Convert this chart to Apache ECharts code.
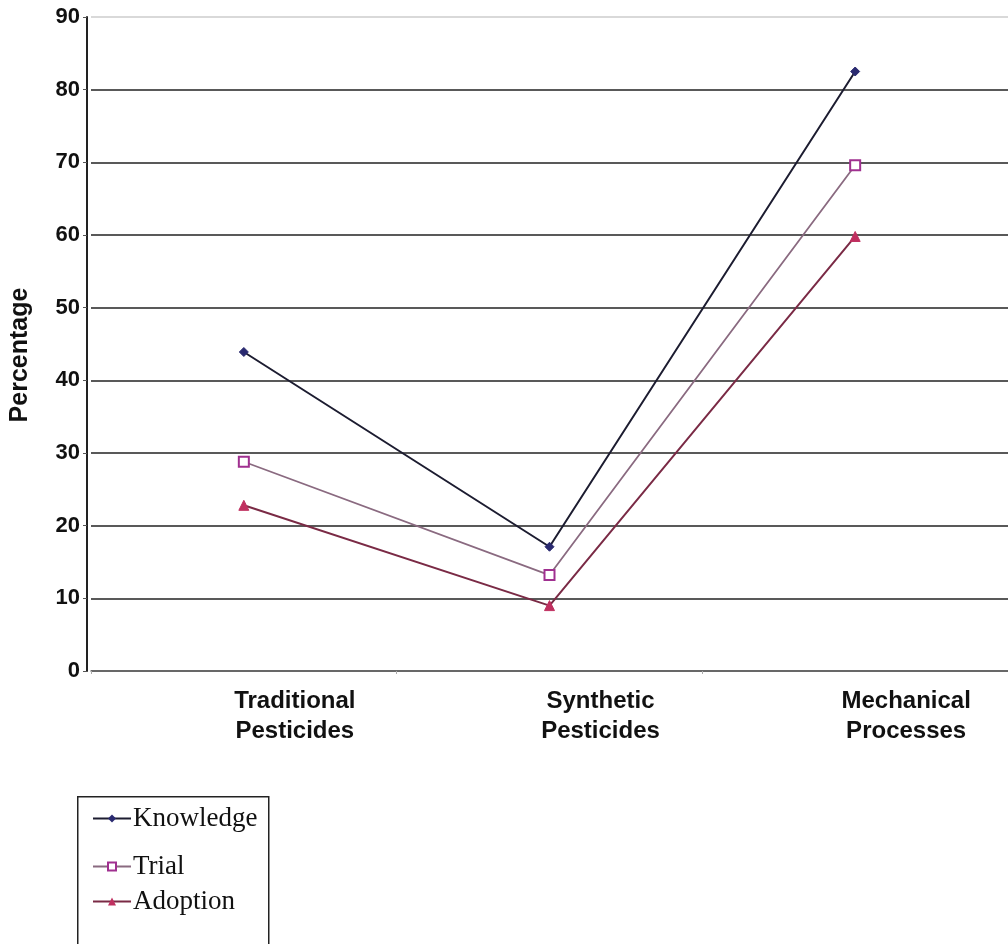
<!DOCTYPE html>
<html><head><meta charset="utf-8">
<script src="https://cdn.jsdelivr.net/npm/echarts@6/dist/echarts.min.js"></script>
<style>html,body{margin:0;padding:0;background:#fff}#c{width:1008px;height:944px}</style>
</head><body><div id="c"></div>
<script>
const categories = ['Traditional\nPesticides', 'Synthetic\nPesticides', 'Mechanical\nProcesses'];
const knowledge = [43.9, 17.1, 82.5];
const trial = [28.8, 13.2, 69.6];
const adoption = [22.8, 9.0, 59.8];
const yTicks = [0, 10, 20, 30, 40, 50, 60, 70, 80, 90];
const seriesNames = ['Knowledge', 'Trial', 'Adoption'];

const legendText = { fontFamily: 'Liberation Serif, Times New Roman', fontSize: 27, color: '#111', padding: [0, 0, 0, -3] };
function mkLegend(name, top) {
  return { show: true, left: 92, top: top, itemWidth: 38, itemHeight: 10, padding: 0,
    textStyle: legendText, data: [name] };
}

const chart = echarts.init(document.getElementById('c'));
chart.setOption({
  animation: false,
  grid: { left: 91, right: 0, top: 17, bottom: 273, containLabel: false },
  graphic: [{ type: 'rect', left: 77, top: 796, shape: { width: 191, height: 170 },
    style: { fill: 'transparent', stroke: '#222', lineWidth: 1.5 }, z: 0 }],
  xAxis: {
    type: 'category', data: categories, boundaryGap: true,
    axisLine: { show: true, lineStyle: { color: '#666', width: 1.5 } },
    axisTick: { show: true, length: 3, lineStyle: { color: '#aaa' } },
    axisLabel: { color: '#111', fontFamily: 'Liberation Sans, Arial', fontWeight: 'bold', fontSize: 24, lineHeight: 30, margin: 15, padding: [0, 0, 0, 102] }
  },
  yAxis: {
    type: 'value', min: 0, max: 90, interval: 10, offset: 4,
    name: 'Percentage', nameLocation: 'middle', nameGap: 54, nameRotate: 90,
    nameTextStyle: { color: '#111', fontFamily: 'Liberation Sans, Arial', fontWeight: 'bold', fontSize: 25, padding: [0, 22, 0, 0] },
    axisLine: { show: true, lineStyle: { color: '#222', width: 2 } },
    axisTick: { show: true, length: 4, lineStyle: { color: '#555' } },
    axisLabel: { color: '#111', fontFamily: 'Liberation Sans, Arial', fontWeight: 'bold', fontSize: 22, margin: 7,
      formatter: v => yTicks.includes(v) ? String(v) : '' },
    splitLine: { show: true, lineStyle: { width: 1.5, color: ['#444', '#222', '#222', '#222', '#222', '#222', '#222', '#222', '#222', '#ccc'] } }
  },
  legend: [mkLegend(seriesNames[0], 805), mkLegend(seriesNames[1], 853), mkLegend(seriesNames[2], 888)],
  series: [
    { name: seriesNames[0], type: 'line', data: knowledge, symbol: 'diamond', symbolSize: 9,
      lineStyle: { color: '#1c1c30', width: 2 }, itemStyle: { color: '#2a2a70', borderColor: '#2a2a70' } },
    { name: seriesNames[1], type: 'line', data: trial, symbol: 'rect', symbolSize: 10,
      lineStyle: { color: '#8a6a80', width: 1.8 }, itemStyle: { color: '#fff', borderColor: '#a03090', borderWidth: 2 } },
    { name: seriesNames[2], type: 'line', data: adoption, symbol: 'triangle', symbolSize: 10,
      lineStyle: { color: '#7a2a45', width: 2 }, itemStyle: { color: '#c03060', borderColor: '#c03060' } }
  ]
});
</script></body></html>
